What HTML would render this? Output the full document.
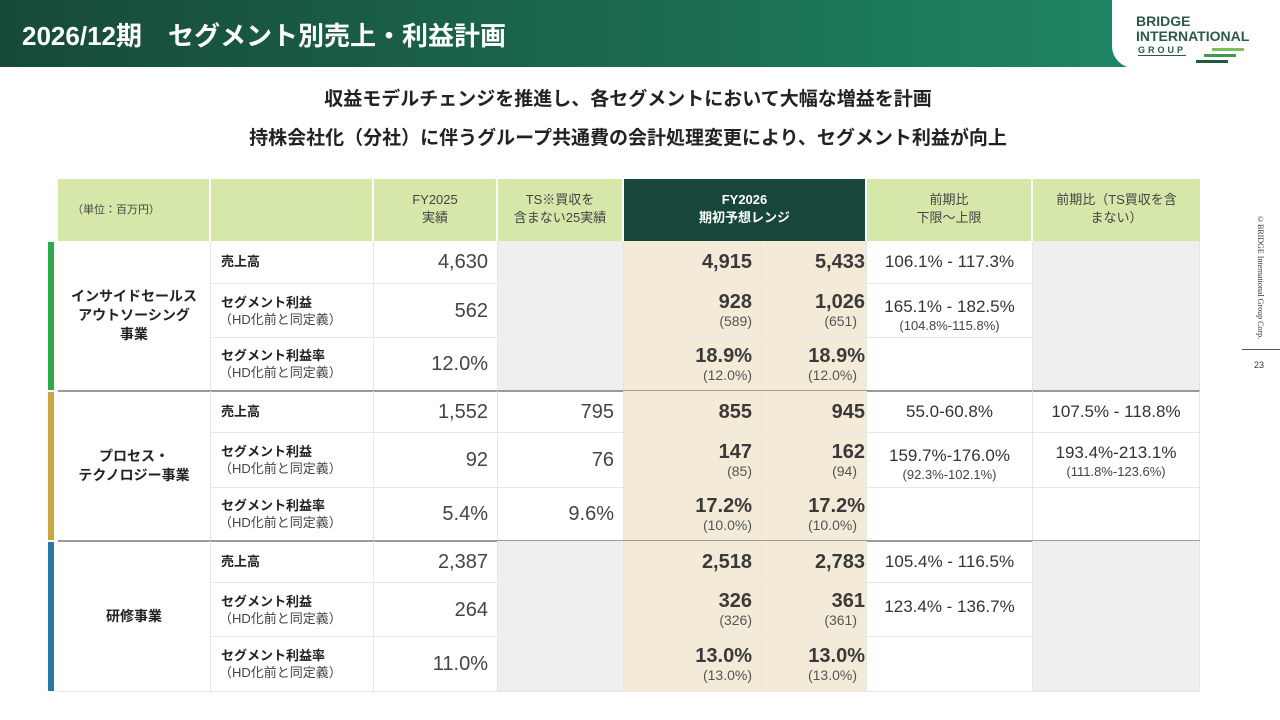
<!DOCTYPE html>
<html><head><meta charset="utf-8"><style>
*{margin:0;padding:0;box-sizing:border-box}
body{width:1280px;height:720px;position:relative;background:#fff;font-family:"Liberation Sans","Noto Sans CJK JP",sans-serif;color:#333;overflow:hidden}
.abs{position:absolute}
#hdr{left:0;top:0;width:1280px;height:67px;background:linear-gradient(90deg,#174a36 0%,#1b6a50 50%,#1f8f6c 100%)}
#logo{left:1112px;top:0;width:168px;height:68px;background:#fff;border-bottom-left-radius:22px}
.c{position:absolute;display:flex;flex-direction:column;justify-content:center;border-right:1px solid #e6e6e6;border-bottom:1px solid #e6e6e6}
.v{font-size:20px;color:#444;text-align:right;padding-right:9px;line-height:22px}
.b{font-weight:bold;color:#3a3a3a}
.s{font-size:14px;color:#555;line-height:17px}
.lab{font-size:13px;font-weight:bold;padding-left:10px;color:#222;line-height:17px}
.labs{font-size:13px;font-weight:normal;color:#444;padding-left:8px}
.pc{font-size:17px;text-align:center;color:#333;line-height:22px}
.pcs{font-size:13px;text-align:center;color:#444}
.h{position:absolute;top:179px;height:62px;background:#d5e7a9;display:flex;align-items:center;justify-content:center;text-align:center;font-size:13px;color:#444;line-height:18px;border-right:2px solid #fff}
</style></head><body>
<div id="hdr" class="abs"></div>
<div class="abs" style="left:22px;top:16px;color:#fff;font-size:26px;font-weight:bold;white-space:nowrap">2026/12期　セグメント別売上・利益計画</div>
<div id="logo" class="abs">
 <div style="position:absolute;left:24px;top:14px;font-size:14px;font-weight:bold;color:#2c5a4a;line-height:15px">BRIDGE<br>INTERNATIONAL</div>
 <div style="position:absolute;left:26px;top:45px;font-size:9px;letter-spacing:3px;color:#2c5a4a;font-weight:bold;border-bottom:1px solid #2c5a4a">GROUP</div>
 <div style="position:absolute;left:100px;top:48px;width:32px;height:3px;background:#7cbf5a"></div>
 <div style="position:absolute;left:92px;top:54px;width:32px;height:3px;background:#3e9a4e"></div>
 <div style="position:absolute;left:84px;top:60px;width:32px;height:3px;background:#1f5a3a"></div>
</div>
<div class="abs" style="left:0;width:1256px;top:84px;text-align:center;font-size:19px;font-weight:bold;color:#222">収益モデルチェンジを推進し、各セグメントにおいて大幅な増益を計画</div>
<div class="abs" style="left:0;width:1256px;top:123px;text-align:center;font-size:19px;font-weight:bold;color:#222">持株会社化（分社）に伴うグループ共通費の会計処理変更により、セグメント利益が向上</div>

<div class="h" style="left:58px;width:153px;justify-content:flex-start;padding-left:14px;font-size:11px">（単位：百万円）</div>
<div class="h" style="left:211px;width:163px"></div>
<div class="h" style="left:374px;width:124px;align-items:flex-start;padding-top:12px">FY2025<br>実績</div>
<div class="h" style="left:498px;width:126px;align-items:flex-start;padding-top:12px">TS※買収を<br>含まない25実績</div>
<div class="h" style="left:624px;width:243px;background:#17473a;color:#fff;font-weight:bold;align-items:flex-start;padding-top:12px">FY2026<br>期初予想レンジ</div>
<div class="h" style="left:867px;width:166px;align-items:flex-start;padding-top:12px">前期比<br>下限～上限</div>
<div class="h" style="left:1033px;width:167px;align-items:flex-start;padding-top:12px;border-right:none">前期比（TS買収を含<br>まない）</div>

<div class="abs" style="left:1256px;top:215px;writing-mode:vertical-rl;font-size:8px;color:#333;font-family:'Liberation Serif',serif">©BRIDGE International Group Corp.</div>
<div class="abs" style="left:1242px;top:349px;width:38px;height:1px;background:#555"></div>
<div class="abs" style="left:1254px;top:360px;font-size:9px;color:#333">23</div>

<div id="tbl"></div>
<script>
const segments=["インサイドセールス<br>アウトソーシング<br>事業","プロセス・<br>テクノロジー事業","研修事業"];
const segColors=["#2eaa4a","#c9a73c","#2a78a6"];
const rowLabels=["売上高","セグメント利益","セグメント利益率"];
const fy2025=[["4,630","562","12.0%"],["1,552","92","5.4%"],["2,387","264","11.0%"]];
const tsExcl=[[null,null,null],["795","76","9.6%"],[null,null,null]];
const fy26Low=[["4,915","928","18.9%"],["855","147","17.2%"],["2,518","326","13.0%"]];
const fy26LowSub=[[null,"(589)","(12.0%)"],[null,"(85)","(10.0%)"],[null,"(326)","(13.0%)"]];
const fy26High=[["5,433","1,026","18.9%"],["945","162","17.2%"],["2,783","361","13.0%"]];
const fy26HighSub=[[null,"(651)","(12.0%)"],[null,"(94)","(10.0%)"],[null,"(361)","(13.0%)"]];
const yoy=[["106.1% - 117.3%","165.1% - 182.5%",""],["55.0-60.8%","159.7%-176.0%",""],["105.4% - 116.5%","123.4% - 136.7%",""]];
const yoySub=[[null,"(104.8%-115.8%)",null],[null,"(92.3%-102.1%)",null],[null,null,null]];
const yoyEx=[[null,null,null],["107.5% - 118.8%","193.4%-213.1%",""],[null,null,null]];
const yoyExSub=[[null,null,null],[null,"(111.8%-123.6%)",null],[null,null,null]];
const rowY=[[241,284,338,391],[391,433,488,541],[541,583,637,692]];
const X=[58,211,374,498,624,762,867,1033,1200];
const T=document.getElementById('tbl');
function cell(x1,x2,y1,y2,html,cls,bg){const d=document.createElement('div');d.className='c '+(cls||'');d.style.left=x1+'px';d.style.width=(x2-x1)+'px';d.style.top=y1+'px';d.style.height=(y2-y1)+'px';if(bg)d.style.background=bg;d.innerHTML=html;T.appendChild(d);return d;}
for(let g=0;g<3;g++){
 const ys=rowY[g];
 const bar=document.createElement('div');bar.className='abs';
 
 
 bar.style.cssText=`left:48px;top:${ys[0]+1}px;width:6px;height:${ys[3]-ys[0]-2}px;background:${segColors[g]}`;T.appendChild(bar);
 const sc=cell(X[0],X[1],ys[0],ys[3],segments[g]);
 
 
 sc.style.cssText+=';align-items:center;text-align:center;font-weight:bold;font-size:14px;color:#222;line-height:19px';
 if(!tsExcl[g][0]){const c=cell(X[3],X[4],ys[0],ys[3],'','', '#efefef');
  
  }
 if(!yoyEx[g][0]){const c=cell(X[7],X[8],ys[0],ys[3],'','', '#efefef');
  
  }
 for(let r=0;r<3;r++){
  const y1=ys[r],y2=ys[r+1];
  let lab='<div class="lab">'+rowLabels[r]+'</div>'+(r>0?'<div class="lab labs">（HD化前と同定義）</div>':'');
  const lc=cell(X[1],X[2],y1,y2,lab);
  
  
  if(r==0)lc.style.justifyContent='flex-start',lc.style.paddingTop='12px';
  const a=cell(X[2],X[3],y1,y2,'<div class="v">'+fy2025[g][r]+'</div>');
  
  
  if(tsExcl[g][r]){const t=cell(X[3],X[4],y1,y2,'<div class="v">'+tsExcl[g][r]+'</div>');
   
   }
  const lo=cell(X[4],X[5],y1,y2,'<div class="v b">'+fy26Low[g][r]+'</div>'+(fy26LowSub[g][r]?'<div class="v s">'+fy26LowSub[g][r]+'</div>':''),'','#f3ebd7');
  
  
  const hi=cell(X[5],X[6],y1,y2,'<div class="v b" style="padding-right:1px">'+fy26High[g][r]+'</div>'+(fy26HighSub[g][r]?'<div class="v s" style="padding-right:9px">'+fy26HighSub[g][r]+'</div>':''),'','#f3ebd7');
  
  
  const p=cell(X[6],X[7],y1,y2,'<div class="pc">'+yoy[g][r]+'</div>'+(yoySub[g][r]?'<div class="pcs">'+yoySub[g][r]+'</div>':''));
  
  
  if(r==0||yoySub[g][r])p.style.justifyContent='flex-start',p.style.paddingTop=r==0?'10px':'12px';
  if(r==1&&!yoySub[g][r])p.style.justifyContent='flex-start',p.style.paddingTop='13px';
  if(yoyEx[g][0]){const q=cell(X[7],X[8],y1,y2,'<div class="pc">'+yoyEx[g][r]+'</div>'+(yoyExSub[g][r]?'<div class="pcs">'+yoyExSub[g][r]+'</div>':''));
   
   }
 }
 const sep=document.createElement('div');sep.className='abs';
 
 
 sep.style.cssText=`left:58px;top:${ys[3]-1}px;width:1142px;height:2px;background:#9a9a9a`;
 if(g<2)T.appendChild(sep);
}
</script>
</body></html>
